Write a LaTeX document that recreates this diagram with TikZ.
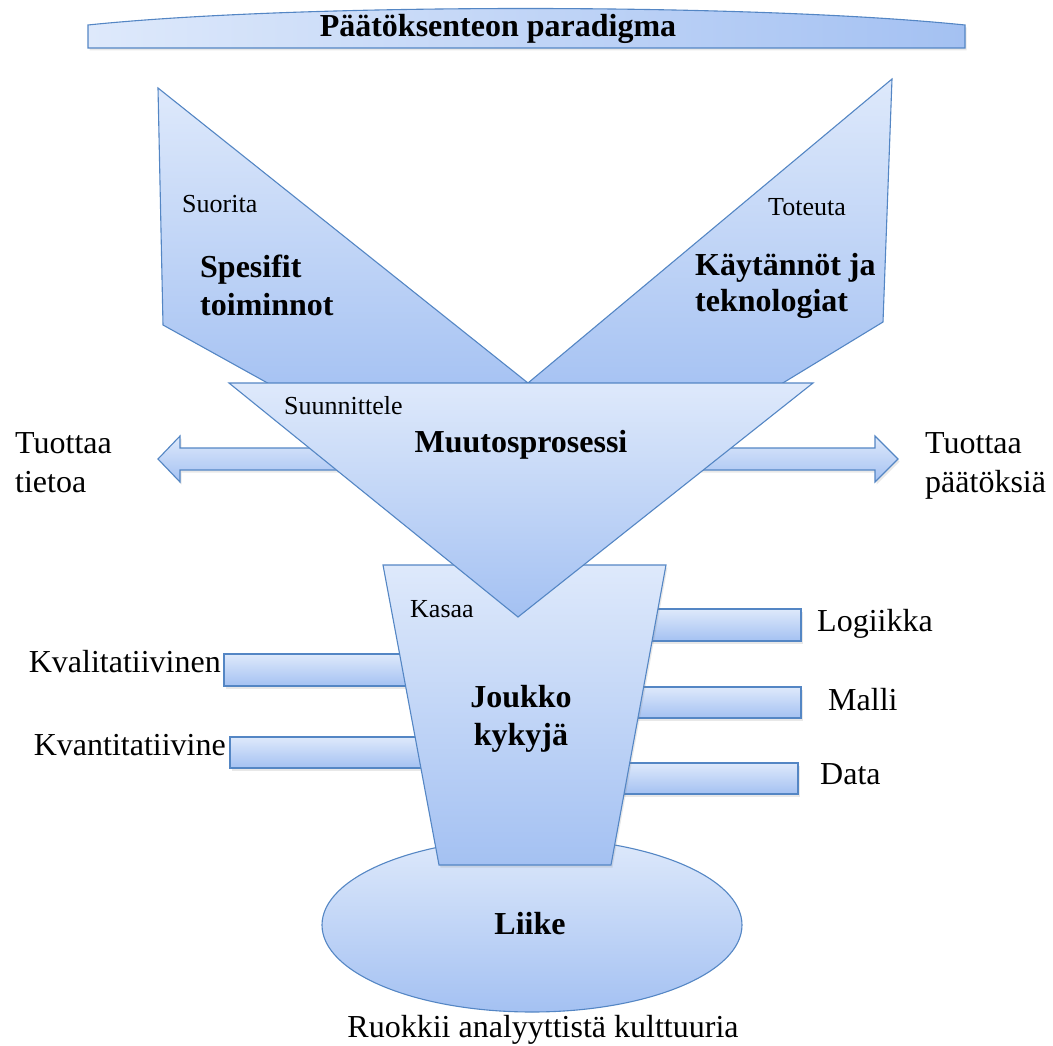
\documentclass[tikz,border=0pt]{standalone}
\usepackage{fontspec}
\setmainfont{Liberation Serif}
\usetikzlibrary{shadows}
\definecolor{topc}{RGB}{222,233,251}
\definecolor{botc}{RGB}{164,193,242}
\definecolor{bordc}{RGB}{84,134,196}
\tikzset{
  blueshape/.style={draw=bordc, line width=1.1pt, line join=miter, top color=topc, bottom color=botc},
  shad/.style={drop shadow={opacity=0.18, shadow xshift=1.5pt, shadow yshift=-2.5pt}},
  big/.style={font=\fontsize{32}{38}\selectfont, inner sep=0pt},
  bigb/.style={font=\fontsize{32}{38}\selectfont\bfseries, inner sep=0pt},
  small/.style={font=\fontsize{26}{30}\selectfont, inner sep=0pt},
}
\begin{document}
\begin{tikzpicture}[x=1pt,y=-1pt]
\useasboundingbox (0,0) rectangle (1053,1046);
% banner
\path[draw=bordc, line width=1.1pt, left color=topc, right color=botc, shad]
  (88,48) -- (88,25) .. controls (300,3) and (750,3) .. (965,25) -- (965,48) -- cycle;
\node[bigb, anchor=base] (title) at (498,37) {Päätöksenteon paradigma};
% left V part
\path[blueshape] (158,88) -- (528,383) -- (300,401) -- (163,325) -- cycle;
% right V part
\path[blueshape] (528,383) -- (892,79) -- (883,322) -- (750,403) -- cycle;
% double block arrow
\path[blueshape, shad] (158,459) -- (180,436) -- (180,448) -- (875,448) -- (875,436) -- (898,459)
  -- (875,482) -- (875,470) -- (180,470) -- (180,482) -- cycle;
% ellipse
\path[blueshape] (532,925) ellipse [x radius=210, y radius=87];
% bars
\path[blueshape, shad] (224,654) rectangle (430,686);
\path[blueshape, shad] (230,737) rectangle (440,768);
\path[blueshape, shad] (640,609) rectangle (801,641);
\path[blueshape, shad] (625,687) rectangle (801,718);
\path[blueshape, shad] (610,763) rectangle (798,794);
% trapezoid
\path[blueshape, shad] (383,565) -- (666,565) -- (611,865) -- (439,865) -- cycle;
% triangle
\path[blueshape] (229,383) -- (813,383) -- (518,617) -- cycle;
% texts
\node[small, anchor=base west] (suorita) at (182,213) {Suorita};
\node[bigb, anchor=base west] (spes1) at (200,277) {Spesifit};
\node[bigb, anchor=base west] (spes2) at (200,315) {toiminnot};
\node[small, anchor=base west] (toteuta) at (768,215) {Toteuta};
\node[bigb, anchor=base west] (kay1) at (695,275) {Käytännöt ja};
\node[bigb, anchor=base west] (kay2) at (695,311) {teknologiat};
\node[small, anchor=base west] (suun) at (284,414) {Suunnittele};
\node[bigb, anchor=base] (muutos) at (521,452) {Muutosprosessi};
\node[big, anchor=base west] (tt1) at (15,453) {Tuottaa};
\node[big, anchor=base west] (tt2) at (15,492) {tietoa};
\node[big, anchor=base west] (tp1) at (925,453) {Tuottaa};
\node[big, anchor=base west] (tp2) at (925,492) {päätöksiä};
\node[small, anchor=base west] (kasaa) at (410,617) {Kasaa};
\node[bigb, anchor=base] (jk1) at (521,707) {Joukko};
\node[bigb, anchor=base] (jk2) at (521,745) {kykyjä};
\node[big, anchor=base west] (logi) at (817,631) {Logiikka};
\node[big, anchor=base west] (malli) at (828,710) {Malli};
\node[big, anchor=base west] (data) at (820,784) {Data};
\node[big, anchor=base east] (kval) at (221,672) {Kvalitatiivinen};
\node[big, anchor=base east] (kvan) at (226,755) {Kvantitatiivine};
\node[bigb, anchor=base] (liike) at (530,934) {Liike};
\node[big, anchor=base] (ruok) at (543,1037) {Ruokkii analyyttistä kulttuuria};
\end{tikzpicture}
\end{document}
